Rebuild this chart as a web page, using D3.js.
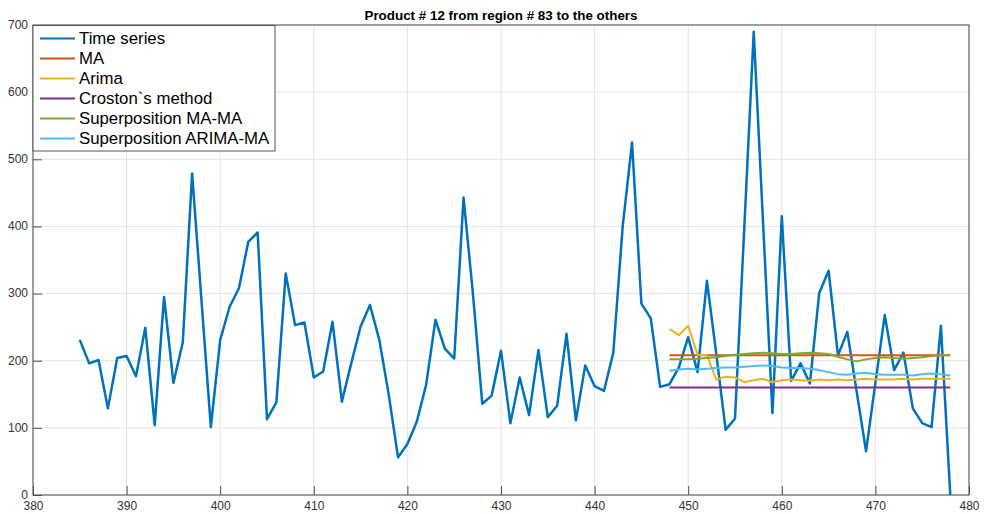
<!DOCTYPE html>
<html>
<head>
<meta charset="utf-8">
<script src="https://cdn.jsdelivr.net/npm/d3@7"></script>
<style>
  body { margin: 0; background: #fff; }
  svg { font-family: "Liberation Sans", Arial, Helvetica, sans-serif; }
  .grid line { stroke: #e3e3e3; stroke-width: 1; }
  .axis path, .axis line { stroke: #4d4d4d; }
  .axis text { fill: #333; font-size: 12px; }
</style>
</head>
<body>
<svg id="chart" width="984" height="514"></svg>
<script>
let svg = d3.select("#chart");

// chart data
const seriesStart = 385;
const timeSeries = [
  231, 196, 201, 129, 204, 207, 177, 249, 104, 295,
  167, 227, 479, 290, 101, 231, 280, 308, 377, 391,
  113, 138, 330, 253, 257, 175, 184, 258, 139, 196,
  251, 283, 231, 150, 56, 76, 109, 164, 261, 218,
  203, 443, 300, 136, 148, 215, 107, 175, 119, 216,
  116, 133, 240, 111, 193, 162, 155, 212, 400, 525,
  285, 263, 161, 165, 190, 235, 183, 319, 210, 97,
  114, 400, 690, 405, 122, 415, 170, 196, 166, 301,
  334, 208, 243, 154, 65, 167, 268, 186, 212, 129,
  107, 101, 252, 0
];

const forecastStart = 448;
const maForecast = [
  208, 208, 208, 208, 208, 208, 208, 208, 208, 208,
  208, 208, 208, 208, 208, 208, 208, 208, 208, 208,
  208, 208, 208, 208, 208, 208, 208, 208, 208, 208, 208
];
const arimaForecast = [
  247, 238, 252, 209, 208, 172, 176, 175, 168, 171,
  173, 168, 171, 172, 171, 170, 172, 171, 172, 171,
  172, 173, 172, 172, 172, 173, 172, 173, 173, 173, 173
];
const crostonForecast = [
  160, 160, 160, 160, 160, 160, 160, 160, 160, 160,
  160, 160, 160, 160, 160, 160, 160, 160, 160, 160,
  160, 160, 160, 160, 160, 160, 160, 160, 160, 160, 160
];
const maMaForecast = [
  202, 202, 202, 203, 204, 205, 207, 209, 210, 211,
  212, 211, 210, 210, 211, 212, 211, 210, 206, 202,
  199, 202, 204, 205, 204, 203, 204, 205, 207, 208, 208
];
const arimaMaForecast = [
  185, 187, 188, 187, 188, 189, 190, 190, 191, 192,
  193, 192, 190, 189, 189, 188, 186, 183, 180, 179,
  181, 182, 180, 179, 179, 179, 178, 180, 181, 180, 178
];

const xTicks = [380, 390, 400, 410, 420, 430, 440, 450, 460, 470, 480];
const yTicks = [0, 100, 200, 300, 400, 500, 600, 700];
const titleText = "Product # 12 from region # 83 to the others";

const legendNames = [
  "Time series", "MA", "Arima", "Croston`s method",
  "Superposition MA-MA", "Superposition ARIMA-MA"
];
const colors = ["#0072BD", "#D95319", "#EDB120", "#7E2F8E", "#77AC30", "#4DBEEE"];

// plot area
const plotLeft = 33, plotRight = 969, plotTop = 25, plotBottom = 495;

let x = d3.scaleLinear().domain([380, 480]).range([plotLeft, plotRight]);
let y = d3.scaleLinear().domain([0, 700]).range([plotBottom, plotTop]);

// grid
let grid = svg.append("g").attr("class", "grid");
grid.selectAll(".gx")
  .data(xTicks)
  .join("line")
  .attr("x1", d => x(d)).attr("x2", d => x(d))
  .attr("y1", plotTop).attr("y2", plotBottom);
grid.selectAll(".gy")
  .data(yTicks)
  .join("line")
  .attr("x1", plotLeft).attr("x2", plotRight)
  .attr("y1", d => y(d)).attr("y2", d => y(d));

// box
svg.append("rect")
  .attr("x", plotLeft).attr("y", plotTop)
  .attr("width", plotRight - plotLeft).attr("height", plotBottom - plotTop)
  .attr("fill", "none")
  .attr("stroke", "#4d4d4d")
  .attr("stroke-width", 1);

// axes, ticks pointing in
let xAxis = svg.append("g")
  .attr("class", "axis")
  .attr("transform", `translate(0,${plotBottom})`)
  .call(d3.axisBottom(x).tickValues(xTicks).tickSizeInner(-9).tickSizeOuter(0));
xAxis.select(".domain").remove();
xAxis.selectAll("text").attr("y", 6.5);

let yAxis = svg.append("g")
  .attr("class", "axis")
  .attr("transform", `translate(${plotLeft},0)`)
  .call(d3.axisLeft(y).tickValues(yTicks).tickSizeInner(-9).tickSizeOuter(0));
yAxis.select(".domain").remove();
yAxis.selectAll("text").attr("x", -5).attr("dy", "0.28em");

// lines
let line = d3.line()
  .x(d => x(d[0]))
  .y(d => y(d[1]));

let plot = svg.append("g");

let allSeries = [
  timeSeries.map((v, i) => [seriesStart + i, v]),
  maForecast.map((v, i) => [forecastStart + i, v]),
  arimaForecast.map((v, i) => [forecastStart + i, v]),
  crostonForecast.map((v, i) => [forecastStart + i, v]),
  maMaForecast.map((v, i) => [forecastStart + i, v]),
  arimaMaForecast.map((v, i) => [forecastStart + i, v])
];

allSeries.forEach(function (data, index) {
  plot.append("path")
    .attr("d", line(data))
    .attr("fill", "none")
    .attr("stroke", colors[index])
    .attr("stroke-width", index === 0 ? 2.5 : 2)
    .attr("stroke-linejoin", "round");
});

// title
svg.append("text")
  .attr("x", (plotLeft + plotRight) / 2)
  .attr("y", 20)
  .attr("text-anchor", "middle")
  .attr("font-size", "13.4px")
  .attr("font-weight", "bold")
  .attr("fill", "#000")
  .text(titleText);

// legend
let legend = svg.append("g");
legend.append("rect")
  .attr("x", 33).attr("y", 25.5)
  .attr("width", 242).attr("height", 125.5)
  .attr("fill", "#fff")
  .attr("stroke", "#555")
  .attr("stroke-width", 1);

legendNames.forEach(function (name, index) {
  let rowY = 38.5 + index * 20;
  legend.append("line")
    .attr("x1", 40).attr("x2", 75)
    .attr("y1", rowY).attr("y2", rowY)
    .attr("stroke", colors[index])
    .attr("stroke-width", 2);
  legend.append("text")
    .attr("x", 79)
    .attr("y", rowY)
    .attr("dy", "0.35em")
    .attr("font-size", "16.8px")
    .attr("fill", "#000")
    .text(name);
});
</script>
</body>
</html>
